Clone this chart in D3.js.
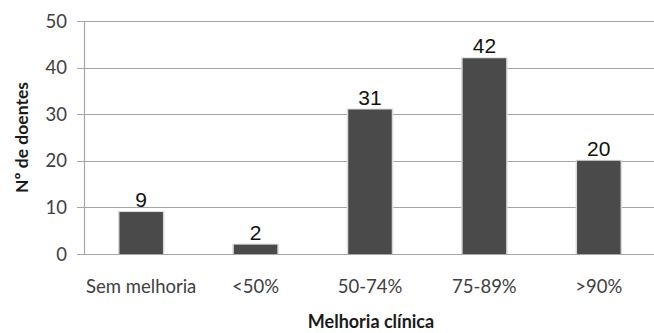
<!DOCTYPE html>
<html>
<head>
<meta charset="utf-8">
<script src="https://cdn.jsdelivr.net/npm/d3@7"></script>
<style>
  body { margin: 0; background: #fff; }
  svg { display: block; }
</style>
</head>
<body>
<svg width="654" height="333"></svg>
<script>
// data
const categories = ["Sem melhoria", "<50%", "50-74%", "75-89%", ">90%"]
const patients = [9, 2, 31, 42, 20]
const yTicks = [0, 10, 20, 30, 40, 50]

const svg = d3.select("svg")
const margin = { top: 21, right: -2, bottom: 79, left: 84 }
const W = 654, H = 333
const innerW = W - margin.left - margin.right
const innerH = H - margin.top - margin.bottom

const x = d3.scaleBand().domain(categories).range([0, innerW]).paddingInner(0.62).paddingOuter(0.31)
const y = d3.scaleLinear().domain([0, 50]).range([innerH, 0])

const g = svg.append("g").attr("transform", `translate(${margin.left},${margin.top})`)

// gridlines
g.selectAll("line.grid")
  .data(yTicks)
  .enter()
  .append("line")
  .attr("class", "grid")
  .attr("x1", -7)
  .attr("x2", innerW)
  .attr("y1", d => Math.round(y(d)) + 0.5)
  .attr("y2", d => Math.round(y(d)) + 0.5)
  .attr("stroke", "#a6a6a6")
  .attr("stroke-width", 1.2)

// y axis line
g.append("line")
  .attr("x1", 0.5).attr("x2", 0.5)
  .attr("y1", 0).attr("y2", innerH)
  .attr("stroke", "#a6a6a6")
  .attr("stroke-width", 1.2)

// y tick labels
g.selectAll("text.ytick")
  .data(yTicks)
  .enter()
  .append("text")
  .attr("class", "ytick")
  .attr("x", -17)
  .attr("y", d => y(d))
  .attr("dy", "0.36em")
  .attr("text-anchor", "end")
  .attr("font-family", "Lato, 'Open Sans', sans-serif")
  .attr("font-size", 18.5)
  .attr("fill", "#404040")
  .text(d => d)

// bar shadow
g.selectAll("rect.shadow")
  .data(patients)
  .enter()
  .append("rect")
  .attr("class", "shadow")
  .attr("x", (d, i) => x(categories[i]) - 1.5)
  .attr("y", d => y(d) - 1)
  .attr("width", x.bandwidth() + 3)
  .attr("height", d => innerH - y(d) + 1)
  .attr("fill", "#d9d9d9")

// bars
g.selectAll("rect.bar")
  .data(patients)
  .enter()
  .append("rect")
  .attr("class", "bar")
  .attr("x", (d, i) => x(categories[i]))
  .attr("y", d => y(d))
  .attr("width", x.bandwidth())
  .attr("height", d => innerH - y(d))
  .attr("fill", "#4a4a4a")

// value labels
g.selectAll("text.value")
  .data(patients)
  .enter()
  .append("text")
  .attr("class", "value")
  .attr("x", (d, i) => x(categories[i]) + x.bandwidth() / 2)
  .attr("y", d => y(d) - 5)
  .attr("text-anchor", "middle")
  .attr("font-family", "'Liberation Sans', Arial, sans-serif")
  .attr("font-size", 21)
  .attr("fill", "#111")
  .text(d => d)

// x tick labels
g.selectAll("text.xtick")
  .data(categories)
  .enter()
  .append("text")
  .attr("class", "xtick")
  .attr("x", d => x(d) + x.bandwidth() / 2)
  .attr("y", innerH + 39)
  .attr("text-anchor", "middle")
  .attr("font-family", "Lato, 'Open Sans', sans-serif")
  .attr("font-size", 18.5)
  .attr("fill", "#404040")
  .text(d => d)

// axis titles
svg.append("text")
  .attr("x", 371)
  .attr("y", 328)
  .attr("text-anchor", "middle")
  .attr("font-family", "Lato, 'Open Sans', sans-serif")
  .attr("font-weight", "bold")
  .attr("font-size", 18)
  .attr("fill", "#1a1a1a")
  .text("Melhoria clínica")

svg.append("text")
  .attr("transform", `translate(28, ${margin.top + innerH / 2}) rotate(-90)`)
  .attr("text-anchor", "middle")
  .attr("font-family", "Lato, 'Open Sans', sans-serif")
  .attr("font-weight", "bold")
  .attr("font-size", 17.5)
  .attr("fill", "#1a1a1a")
  .text("Nº de doentes")
</script>
</body>
</html>
